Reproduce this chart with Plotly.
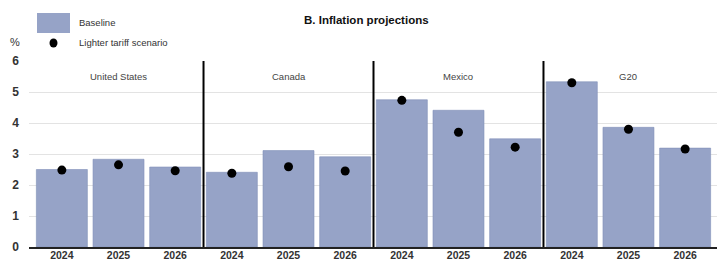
import plotly.graph_objects as go

countries = ["United States", "Canada", "Mexico", "G20"]
years = ["2024", "2025", "2026"]
baseline = [2.50, 2.83, 2.58, 2.41, 3.11, 2.91, 4.75, 4.41, 3.49, 5.33, 3.86, 3.19]
lighter = [2.48, 2.65, 2.46, 2.38, 2.59, 2.45, 4.73, 3.70, 3.22, 5.30, 3.80, 3.16]
y_ticks = [0, 1, 2, 3, 4, 5, 6]

FONT = "Liberation Sans Narrow, Arial Narrow, Liberation Sans, Arial"
BAR = "#96A3C7"

xpos = list(range(len(baseline)))
ticktext = [y for _ in countries for y in years]

fig = go.Figure()
fig.add_trace(go.Bar(x=xpos, y=baseline, name="Baseline",
                     marker=dict(color=BAR, line=dict(color="#8190b8", width=0.6)),
                     width=0.9, showlegend=False))
fig.add_trace(go.Scatter(x=xpos, y=lighter, mode="markers", name="Lighter tariff scenario",
                         marker=dict(color="black", size=9), showlegend=False))

# the page body adds an 8px margin, so the figure is drawn 8px smaller and
# reference pixel positions are shifted by that offset
OFF = 8
W, H = 725 - OFF, 262 - OFF
L, R, T, B = 29 - OFF, 7, 61 - OFF, 15.3
pw, ph = W - L - R, H - T - B

def px(x):
    return (x - OFF - L) / pw

def py(y):
    return (H - B - (y - OFF)) / ph

shapes = []
n = len(years)
for i in range(1, len(countries)):
    shapes.append(dict(type="line", xref="x", yref="y", x0=i * n - 0.5, x1=i * n - 0.5,
                       y0=0, y1=6, line=dict(color="black", width=2)))
# legend symbols
shapes.append(dict(type="rect", xref="paper", yref="paper", x0=px(37), x1=px(70),
                   y0=py(33), y1=py(13), fillcolor=BAR, line=dict(width=0)))
shapes.append(dict(type="circle", xref="paper", yref="paper", x0=px(49.5), x1=px(57.5),
                   y0=py(47.5), y1=py(38.5), fillcolor="black", line=dict(width=0)))

annotations = [
    dict(text="Baseline", xref="paper", yref="paper", x=px(77), y=py(23), xanchor="left",
         yanchor="middle", showarrow=False, font=dict(family=FONT, size=9.5, color="#333")),
    dict(text="Lighter tariff scenario", xref="paper", yref="paper", x=px(77), y=py(43),
         xanchor="left", yanchor="middle", showarrow=False,
         font=dict(family=FONT, size=9.5, color="#333")),
    dict(text="B. Inflation projections", xref="paper", yref="paper", x=px(366), y=py(20),
         xanchor="center", yanchor="middle", showarrow=False,
         font=dict(family=FONT, size=11.5, color="#111", weight="bold")),
    dict(text="%", xref="paper", yref="paper", x=px(15), y=py(42), xanchor="center",
         yanchor="middle", showarrow=False, font=dict(family=FONT, size=11, color="#333")),
]
for i, c in enumerate(countries):
    annotations.append(dict(text=c, xref="x", yref="paper", x=i * n + 1, y=py(76),
                            xanchor="center", yanchor="middle", showarrow=False,
                            font=dict(family=FONT, size=9.5, color="#444")))

fig.update_layout(
    width=W, height=H,
    margin=dict(l=L, r=R, t=T, b=B, pad=0, autoexpand=False),
    paper_bgcolor="white", plot_bgcolor="white",
    shapes=shapes, annotations=annotations,
    bargap=0.1,
    font=dict(family=FONT, size=12, color="#333"),
    xaxis=dict(range=[-0.58, 11.58], tickmode="array", tickvals=xpos, ticktext=ticktext,
               showgrid=False, zeroline=False, showline=True, linecolor="#222", linewidth=1.5,
               ticks="", tickfont=dict(family=FONT, size=10.5, color="#333", weight="bold"),
               ticklabelstandoff=-2, automargin=False, fixedrange=True),
    yaxis=dict(range=[0, 6], tickvals=y_ticks, showgrid=True, gridcolor="#e3e3e3",
               gridwidth=1, zeroline=False, showline=False, ticks="",
               tickfont=dict(family=FONT, size=12, color="#333", weight="bold"),
               ticklabelstandoff=9, automargin=False, fixedrange=True),
)

fig.write_html("out.html")
